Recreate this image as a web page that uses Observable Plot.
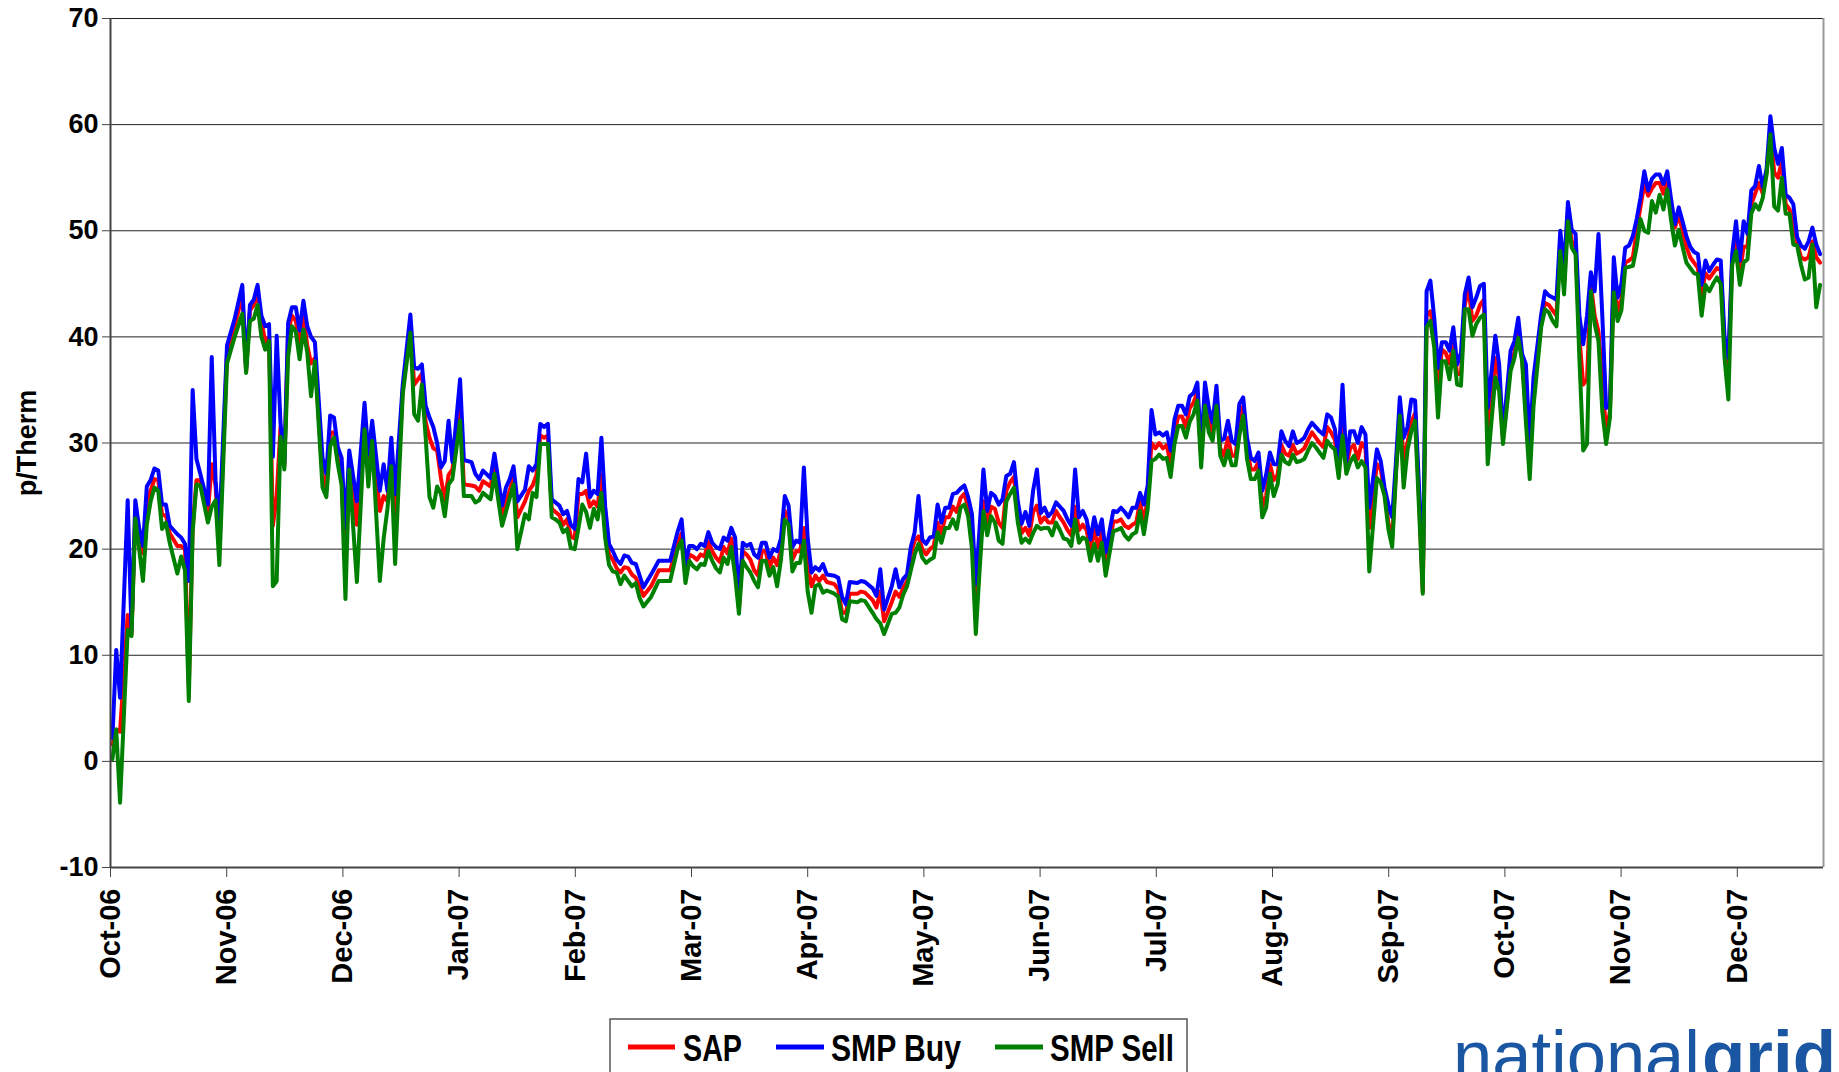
<!DOCTYPE html>
<html><head><meta charset="utf-8">
<script src="https://cdn.jsdelivr.net/npm/d3@7"></script>
<script src="https://cdn.jsdelivr.net/npm/@observablehq/plot@0.6"></script>
<style>
html,body{margin:0;padding:0;background:#fff;overflow:hidden;}
#chart svg{display:block;}
#footer{display:block;}
</style></head><body>
<div id="chart"></div>
<svg id="footer" width="1839" height="62"></svg>
<script>
// Day offsets from 1 Oct 2006 (one month = 365/12 days on the axis, months drawn equally spaced)
const days = [0,1,2,4,5,6,7,8,9,10,11,12,13,14,15,17,18,19,20,21,22,23,25,26,27,28,30,32,34,35,36,37,38,39,40,41,42,43,44,45,46,47,48,49,50,51,52,53,55,56,57,58,59,60,61,62,64,66,67,68,70,71,72,73,74,76,78,79,80,81,82,83,84,85,86,87,88,89,91,92,94,95,96,97,99,100,102,103,104,105,106,108,109,110,111,112,113,114,115,116,117,118,119,120,121,122,123,124,125,126,127,128,129,130,131,132,133,134,135,136,137,138,139,141,143,146,148,149,150,151,152,153,154,155,156,157,158,159,160,161,162,163,164,165,166,167,168,169,170,171,172,173,174,175,176,177,178,179,180,181,182,183,184,185,186,187,189,190,191,192,193,195,196,197,199,200,201,202,204,205,206,207,208,209,210,211,212,213,214,215,216,217,218,219,220,221,222,223,224,225,226,227,228,229,230,231,232,233,234,235,236,237,238,239,240,241,242,243,244,245,246,247,248,249,250,251,252,253,254,255,256,257,258,259,260,262,263,264,265,266,267,268,269,270,271,272,273,274,275,276,277,278,279,280,281,282,283,284,285,286,287,288,289,290,291,292,293,294,295,296,297,298,299,300,301,302,303,304,305,306,307,308,309,310,311,312,313,314,315,316,317,318,319,320,321,322,323,324,325,326,327,328,329,331,332,333,334,335,336,337,338,339,340,341,342,343,344,345,346,347,348,349,350,351,352,353,354,355,356,357,358,359,360,362,363,364,366,367,368,369,370,371,372,374,375,376,377,378,379,380,381,382,383,384,385,386,387,388,389,390,391,392,393,394,395,396,397,398,399,400,401,402,403,404,405,406,407,408,409,410,411,412,413,414,415,416,417,418,419,420,421,422,423,424,425,426,427,428,429,430,431,432,433,434,435,436,437,438,439,440,441,442,443,444,445,446,447];

const smpBuy = [2.2,10.5,6.0,24.6,12.3,24.6,22.0,20.3,25.9,26.5,27.6,27.4,24.2,24.2,22.2,21.4,21.1,20.5,17.0,35.0,28.5,27.1,24.2,38.1,26.5,21.9,39.2,41.7,44.9,37.0,43.0,43.5,44.9,42.0,41.0,41.2,28.7,40.1,31.9,28.1,41.3,42.8,42.8,40.6,43.4,41.0,40.0,39.5,28.6,27.1,32.6,32.4,29.6,28.6,22.0,29.3,24.5,33.8,28.9,32.1,25.5,28.0,25.5,30.5,25.2,35.5,42.1,37.1,37.0,37.4,33.5,32.4,31.5,30.0,27.7,28.3,32.1,28.2,36.0,28.4,28.2,27.1,26.6,27.4,26.7,29.0,24.1,25.8,26.6,27.8,24.5,25.6,27.8,27.4,28.0,31.8,31.5,31.8,24.7,24.4,24.1,23.3,23.6,22.3,21.9,26.6,26.3,29.0,24.9,25.5,25.2,30.5,24.0,20.5,19.8,19.0,18.6,19.4,19.3,18.7,18.6,17.5,16.4,17.6,18.9,18.9,21.7,22.8,18.5,20.3,20.3,20.0,20.5,20.3,21.6,20.6,20.2,20.0,21.1,20.8,22.0,21.1,15.5,20.6,20.3,20.5,19.5,19.2,20.6,20.6,19.2,20.0,19.8,21.0,25.0,24.1,20.2,20.8,20.6,27.7,21.0,17.8,18.3,18.0,18.6,17.6,17.5,17.3,15.5,14.8,16.9,16.8,17.0,16.9,16.3,15.6,18.1,14.3,16.5,18.1,16.4,17.2,17.6,20.2,21.6,25.0,20.9,20.5,21.1,21.2,24.2,22.5,23.9,23.9,25.2,25.3,25.7,26.0,24.9,23.3,16.7,22.0,27.5,23.6,25.3,25.0,24.2,24.7,26.9,27.1,28.2,24.5,22.4,23.5,22.2,25.5,27.5,23.4,23.9,23.1,23.5,24.4,24.0,23.6,22.8,22.2,27.5,23.0,23.6,22.8,20.9,23.0,21.4,22.8,19.7,23.6,23.5,23.9,23.5,23.0,23.9,23.9,25.3,24.2,26.0,33.1,30.8,31.0,30.7,31.0,29.3,32.2,33.5,33.5,32.7,34.4,34.7,35.7,29.3,35.7,33.3,31.9,35.4,30.2,30.4,32.1,30.2,29.9,33.7,34.3,30.5,28.6,28.3,29.1,25.5,27.0,29.1,28.0,28.0,31.1,30.2,29.7,31.1,30.0,30.2,30.5,31.3,31.9,31.5,31.1,30.8,32.7,32.4,31.3,28.5,35.5,28.2,31.1,31.1,30.0,31.5,30.8,23.9,29.4,28.3,25.8,24.2,23.0,28.3,34.3,30.5,31.5,34.1,34.0,26.0,17.0,44.3,45.3,41.8,37.1,39.5,39.5,38.7,40.9,37.4,38.5,44.0,45.6,42.8,43.7,44.8,45.0,33.3,40.1,37.4,30.8,38.7,39.6,41.8,38.4,37.4,29.9,36.2,42.1,44.3,43.9,43.7,43.5,50.0,46.5,52.7,50.1,49.7,42.0,39.3,42.0,46.1,44.3,49.7,42.0,33.3,33.5,47.5,43.7,45.0,48.4,48.6,49.5,51.1,53.1,55.6,53.8,54.9,55.3,55.3,54.4,55.6,53.0,50.6,52.2,50.9,49.5,48.5,48.0,47.8,44.9,47.2,46.2,46.8,47.3,47.2,40.0,38.0,47.8,50.9,47.2,50.9,49.7,53.8,54.2,56.1,54.1,55.8,60.8,57.8,56.3,57.8,53.4,53.1,52.5,49.4,48.6,48.3,49.0,50.3,48.7,47.8];

const sap = [1.6,3.0,2.8,13.8,12.0,23.5,21.0,19.6,24.5,25.5,26.6,26.5,23.2,23.2,21.5,20.3,20.3,20.0,7.0,22.0,26.5,26.5,23.5,28.0,26.0,20.0,38.5,41.0,44.0,36.8,42.5,43.0,44.0,41.5,39.5,40.0,22.2,25.0,31.5,27.8,40.5,42.0,41.5,39.5,42.0,39.2,37.5,38.0,27.0,25.8,31.0,31.0,28.5,27.0,18.0,28.0,22.3,32.0,27.0,31.0,23.6,25.0,24.5,28.5,22.0,35.0,41.0,35.5,36.0,36.5,32.0,30.5,29.5,29.3,26.7,24.6,27.0,27.5,33.6,26.1,26.0,25.9,25.5,26.4,25.9,28.0,23.0,24.5,25.5,26.8,23.0,24.5,25.5,26.0,27.0,30.7,30.5,30.7,23.8,23.5,23.2,22.3,22.8,21.2,21.0,25.2,25.2,25.5,24.0,24.5,24.0,27.0,22.0,19.5,19.0,18.2,17.8,18.3,18.2,17.6,17.3,16.5,15.6,16.5,18.0,18.0,20.5,21.5,17.5,19.5,19.3,19.0,19.5,19.3,20.7,19.8,19.2,18.8,20.2,19.6,21.0,19.0,14.5,19.8,19.5,19.0,18.0,17.5,19.8,19.8,18.3,19.2,18.5,20.0,23.6,23.0,19.0,19.8,19.8,22.0,18.5,16.5,17.5,17.0,17.5,16.9,16.7,16.2,14.0,14.0,15.8,15.8,16.0,15.9,15.2,14.5,16.0,13.2,15.0,16.0,15.5,16.3,17.0,19.5,20.8,21.2,20.0,19.5,20.0,20.3,22.5,21.5,23.0,23.0,24.0,23.5,24.8,25.2,24.0,21.5,13.5,19.0,24.5,22.5,24.0,23.8,22.5,22.0,25.5,26.3,26.8,23.5,21.5,22.0,21.3,23.5,24.1,22.5,23.0,22.5,22.5,23.6,23.0,22.5,21.8,21.3,24.0,21.8,22.3,21.8,20.0,21.8,20.2,21.6,18.5,22.6,22.6,22.8,22.2,22.0,22.3,22.5,24.5,22.5,24.8,30.0,29.5,30.0,29.5,29.8,28.0,31.0,32.5,32.5,31.5,33.3,33.8,34.8,28.5,34.5,32.0,31.0,34.5,29.5,28.8,30.5,28.8,28.8,32.0,33.5,29.5,27.5,27.5,28.2,24.0,25.0,28.0,26.5,27.0,29.8,29.0,28.8,29.8,29.0,29.2,29.5,30.3,31.0,30.5,30.0,29.6,31.5,31.0,30.3,27.5,31.5,27.8,29.5,29.8,28.5,30.0,29.5,22.0,28.0,27.5,25.4,22.5,21.0,27.5,33.0,28.5,30.0,32.0,32.8,25.0,16.0,42.0,42.4,40.5,35.0,38.8,38.5,37.5,39.5,36.5,36.5,43.0,44.5,41.5,42.0,43.0,43.5,30.0,38.0,36.0,30.3,37.5,38.5,40.5,38.0,33.0,28.0,35.0,41.5,43.2,43.0,42.5,42.0,49.0,45.0,51.5,49.0,48.5,40.0,35.5,36.0,45.0,42.0,40.5,36.0,31.0,33.0,45.5,42.5,43.5,47.0,47.2,47.5,50.0,52.3,54.4,53.3,54.0,54.5,54.5,53.5,54.8,52.0,50.3,51.5,50.0,48.5,47.5,47.0,46.5,44.0,46.0,45.5,46.0,46.5,46.3,39.0,37.0,47.2,49.5,46.0,48.5,48.5,52.5,53.5,54.5,53.5,55.5,59.5,55.5,55.0,56.6,52.5,52.0,51.0,48.9,47.5,47.3,47.5,49.0,47.5,47.0];

const smpSell = [0.2,3.0,-3.9,12.4,11.8,22.9,20.0,17.0,22.3,24.5,25.8,25.5,21.9,22.5,20.6,17.7,19.3,18.0,5.7,21.6,26.1,26.0,22.5,24.0,24.6,18.5,37.5,40.0,42.2,36.6,41.5,41.7,43.0,40.0,38.8,39.6,16.5,17.0,30.6,27.5,38.1,41.0,40.5,37.9,40.7,38.5,34.4,37.7,25.8,24.9,29.7,30.5,28.0,26.0,15.3,27.5,16.9,31.3,25.9,30.2,17.0,21.0,23.8,27.8,18.6,34.6,40.4,32.7,32.1,35.5,30.5,24.9,23.9,25.9,25.2,23.1,26.1,26.6,32.1,25.0,25.0,24.4,24.6,25.3,24.7,27.1,22.2,23.5,24.8,26.1,20.0,23.3,22.8,25.3,24.9,29.9,29.9,29.9,23.0,22.8,22.5,21.6,21.9,20.1,20.0,22.0,24.2,23.5,22.0,23.8,22.8,25.3,21.0,18.5,17.9,17.8,16.7,17.5,17.0,16.5,16.8,15.4,14.6,15.5,17.0,17.0,20.1,20.8,16.8,18.9,18.4,18.1,18.6,18.5,19.8,18.9,18.2,17.8,19.2,18.6,20.2,17.5,13.9,18.9,18.3,17.8,17.0,16.4,18.9,18.9,17.5,18.3,16.5,19.0,22.8,22.3,17.9,18.7,18.7,20.8,16.0,14.0,16.5,16.7,15.9,16.1,15.8,15.5,13.4,13.2,15.1,15.0,15.2,15.1,14.0,13.4,13.0,12.0,13.9,14.0,14.5,15.7,16.5,18.0,19.5,20.5,19.2,18.7,19.0,19.2,21.6,20.6,22.0,22.0,22.8,21.9,23.9,24.2,23.1,20.0,12.0,18.0,23.6,21.3,23.1,22.5,20.8,20.5,24.5,25.2,25.8,22.5,20.6,21.0,20.6,21.5,22.2,21.9,22.0,22.0,21.3,22.5,21.8,21.0,20.9,20.3,22.8,20.6,21.1,20.9,18.9,20.5,18.9,20.6,17.5,21.7,21.8,22.0,21.3,20.9,21.4,21.6,23.6,21.4,23.8,28.3,28.5,28.9,28.5,28.6,26.8,29.9,31.6,31.6,30.5,32.0,32.7,34.0,27.7,33.5,31.0,30.2,33.5,28.8,27.9,29.3,27.9,27.9,30.7,32.6,28.5,26.6,26.6,27.4,23.0,23.9,27.1,25.0,26.1,28.9,28.2,28.0,28.9,28.2,28.3,28.5,29.3,30.0,29.6,29.1,28.6,30.2,29.7,29.4,26.7,30.7,27.1,28.2,28.8,27.7,28.3,27.7,17.9,26.7,26.3,25.0,21.9,20.2,27.1,32.6,25.8,29.3,31.1,32.1,24.0,15.8,40.9,41.5,39.0,32.4,37.7,37.7,36.0,38.7,35.5,35.4,42.6,42.6,40.1,41.2,41.8,42.1,28.0,36.2,34.9,29.9,36.8,38.0,39.9,37.7,32.0,26.6,33.5,40.9,42.6,42.3,41.5,41.0,48.1,44.0,50.9,48.4,47.8,38.0,29.3,29.9,44.3,41.2,39.6,33.0,29.9,32.4,44.2,41.5,42.5,46.5,46.6,46.7,48.5,51.1,50.0,49.8,52.8,51.7,53.4,52.0,53.9,51.0,48.6,50.1,48.5,47.0,46.5,46.0,45.9,42.0,44.9,44.3,45.0,45.6,45.0,38.0,34.1,46.8,48.1,44.9,47.0,47.3,51.6,52.5,52.0,53.1,55.3,59.1,52.3,51.9,55.0,51.6,51.6,48.7,48.6,46.8,45.4,45.6,48.7,42.8,44.9];

const monthLabels = ["Oct-06","Nov-06","Dec-06","Jan-07","Feb-07","Mar-07","Apr-07","May-07","Jun-07","Jul-07","Aug-07","Sep-07","Oct-07","Nov-07","Dec-07"];
const yTicks = [-10,0,10,20,30,40,50,60,70];
const seriesNames = ["SAP","SMP Buy","SMP Sell"];
const seriesColors = ["#ff0000","#0000ff","#008000"];
const yLabel = "p/Therm";

const xDomain = [-0.5, 447.9];
const monthLen = 365 / 12;
const xTicks = monthLabels.map((_, i) => xDomain[0] + i * monthLen);

const seriesValues = [sap, smpBuy, smpSell];
const rows = [];
seriesValues.forEach((vals, s) => {
  days.forEach((d, i) => rows.push({series: seriesNames[s], day: d, value: vals[i]}));
});

const chart = Plot.plot({
  width: 1839,
  height: 1010,
  marginLeft: 110,
  marginRight: 16,
  marginTop: 18,
  marginBottom: 143,
  style: {fontFamily: "'Liberation Sans', Arial, sans-serif", fontWeight: "bold", color: "#000", background: "#fff", overflow: "visible"},
  x: {type: "linear", domain: xDomain},
  y: {domain: [yTicks[0], yTicks[yTicks.length - 1]]},
  color: {domain: seriesNames, range: seriesColors},
  marks: [
    Plot.ruleY(yTicks.slice(1), {stroke: "#222", strokeWidth: 1}),
    Plot.ruleX([xDomain[1]], {stroke: "#999", strokeWidth: 2}),
    Plot.lineY(rows, {x: "day", y: "value", z: "series", stroke: "series", strokeWidth: 4, strokeLinejoin: "round", strokeLinecap: "round"}),
    Plot.ruleX([xDomain[0]], {stroke: "#444", strokeWidth: 2}),
    Plot.ruleY([yTicks[0]], {stroke: "#444", strokeWidth: 2}),
    Plot.axisY({ticks: yTicks, tickFormat: d => String(d), tickSize: 8, tickPadding: 4, fontSize: 27, fontWeight: "bold", label: null, stroke: "#444"}),
    Plot.axisX({ticks: xTicks, tickFormat: (d, i) => monthLabels[i], tickRotate: -90, tickSize: 10, tickPadding: 11, fontSize: 29, fontWeight: "bold", label: null, stroke: "#444"}),
    Plot.text([yLabel], {text: d => d, frameAnchor: "left", textAnchor: "middle", dx: -83, rotate: -90, fontSize: 27, fontWeight: "bold", fill: "#000"})
  ]
});
document.getElementById("chart").appendChild(chart);

// Legend and logo below the chart
const footer = d3.select("#footer");
footer.append("rect").attr("x", 610).attr("y", 9).attr("width", 577).attr("height", 70)
  .attr("fill", "#fff").attr("stroke", "#555").attr("stroke-width", 1.5);
const legendItems = [
  {name: seriesNames[0], color: seriesColors[0], x0: 628, x1: 675, tx: 683, tw: 59},
  {name: seriesNames[1], color: seriesColors[1], x0: 776, x1: 824, tx: 831, tw: 130},
  {name: seriesNames[2], color: seriesColors[2], x0: 995, x1: 1043, tx: 1050, tw: 124}
];
legendItems.forEach(it => {
  footer.append("line").attr("x1", it.x0).attr("x2", it.x1).attr("y1", 37).attr("y2", 37)
    .attr("stroke", it.color).attr("stroke-width", 5);
  footer.append("text").attr("x", it.tx).attr("y", 51).text(it.name)
    .attr("font-family", "'Liberation Sans Narrow', 'Arial Narrow', 'Liberation Sans', sans-serif")
    .attr("font-weight", "bold").attr("font-size", 36)
    .attr("textLength", it.tw).attr("lengthAdjust", "spacingAndGlyphs");
});
footer.append("text").attr("x", 1453).attr("y", 70).text("national")
  .attr("font-family", "'Liberation Sans', Arial, sans-serif").attr("font-size", 71)
  .attr("fill", "#1a56a2").attr("textLength", 247).attr("lengthAdjust", "spacingAndGlyphs");
footer.append("text").attr("x", 1702).attr("y", 70).text("grid")
  .attr("font-family", "'Liberation Sans', Arial, sans-serif").attr("font-size", 71).attr("font-weight", "bold")
  .attr("fill", "#1a56a2").attr("textLength", 134).attr("lengthAdjust", "spacingAndGlyphs");
</script>
</body></html>
